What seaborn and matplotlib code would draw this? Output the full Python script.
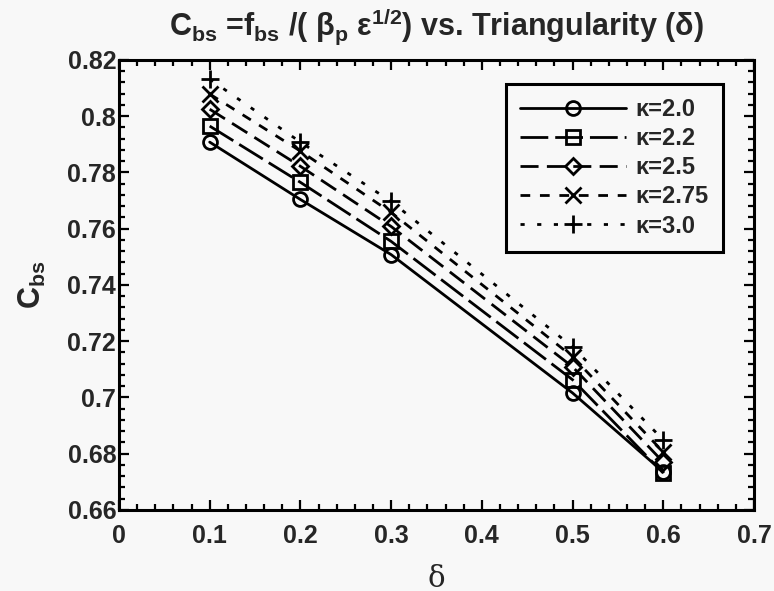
import matplotlib
matplotlib.use("Agg")
import matplotlib.pyplot as plt
import matplotlib.ticker as mticker
import seaborn as sns
import pandas as pd

# ---- data ----
delta = [0.1, 0.2, 0.3, 0.5, 0.6]
kappa_labels = ["κ=2.0", "κ=2.2", "κ=2.5", "κ=2.75", "κ=3.0"]
cbs_k20 = [0.7908, 0.7704, 0.7508, 0.7016, 0.6735]
cbs_k22 = [0.7965, 0.7765, 0.7555, 0.7063, 0.6731]
cbs_k25 = [0.8025, 0.7822, 0.7608, 0.7109, 0.6770]
cbs_k275 = [0.8079, 0.7876, 0.7658, 0.7145, 0.6806]
cbs_k30 = [0.8132, 0.7908, 0.7697, 0.7180, 0.6849]
xticks = [0, 0.1, 0.2, 0.3, 0.4, 0.5, 0.6, 0.7]
yticks = [0.66, 0.68, 0.70, 0.72, 0.74, 0.76, 0.78, 0.80, 0.82]

series = [cbs_k20, cbs_k22, cbs_k25, cbs_k275, cbs_k30]
rows = []
for lab, vals in zip(kappa_labels, series):
    for d, v in zip(delta, vals):
        rows.append({"delta": d, "cbs": v, "kappa": lab})
df = pd.DataFrame(rows)

sns.set_style("ticks")
plt.rcParams["font.family"] = ["Liberation Sans", "DejaVu Sans"]
plt.rcParams["font.weight"] = "bold"
plt.rcParams["mathtext.fontset"] = "custom"
plt.rcParams["mathtext.rm"] = "Liberation Sans:bold"
plt.rcParams["mathtext.bf"] = "Liberation Sans:bold"
plt.rcParams["mathtext.it"] = "Liberation Sans:bold"

bg = "#f8f8f8"
fig = plt.figure(figsize=(7.74, 5.91), dpi=100, facecolor=bg)
ax = fig.add_axes([0.1537, 0.1371, 0.8205, 0.7614])
ax.set_facecolor(bg)

markers = {"κ=2.0": "o", "κ=2.2": "s", "κ=2.5": "D", "κ=2.75": "x", "κ=3.0": "+"}
msizes = {"κ=2.0": 10, "κ=2.2": 10, "κ=2.5": 8, "κ=2.75": 12, "κ=3.0": 13}
dashes = {"κ=2.0": None,
          "κ=2.2": (10, 2.5),
          "κ=2.5": (6.5, 3),
          "κ=2.75": (3.5, 3.5),
          "κ=3.0": (1.5, 4.5)}

handles = []
for lab in kappa_labels:
    sub = df[df["kappa"] == lab]
    n0 = len(ax.get_lines())
    sns.lineplot(data=sub, x="delta", y="cbs", color="black", linewidth=2.0,
                 marker=markers[lab], markersize=msizes[lab], mec="black",
                 mfc="none", mew=2.0, legend=False, ax=ax, errorbar=None)
    ln = ax.get_lines()[n0]
    if dashes[lab] is not None:
        ln.set_dashes(dashes[lab])
    handles.append(ln)

ax.set_xlim(0, 0.7)
ax.set_ylim(0.66, 0.82)
ax.set_xticks(xticks)
ax.set_yticks(yticks)
fmt = mticker.FuncFormatter(lambda v, p: "%g" % round(v, 3))
ax.xaxis.set_major_formatter(fmt)
ax.yaxis.set_major_formatter(fmt)
ax.xaxis.set_minor_locator(mticker.MultipleLocator(0.02))
ax.yaxis.set_minor_locator(mticker.MultipleLocator(0.004))
ax.tick_params(which="both", direction="in", top=True, right=True, width=1.6,
               color="black")
ax.tick_params(which="major", length=7, labelsize=18)
ax.tick_params(which="minor", length=4)
ax.tick_params(axis="x", which="major", pad=10)
ax.tick_params(axis="y", which="major", pad=2)
for lab in ax.get_xticklabels() + ax.get_yticklabels():
    lab.set_fontweight("bold")
for sp in ax.spines.values():
    sp.set_linewidth(2.2)
    sp.set_color("black")

ax.set_xlabel("δ", family="DejaVu Serif", fontweight="normal", fontsize=21,
              labelpad=12)
ax.set_ylabel(r"C$_{\mathregular{bs}}$", fontsize=22, fontweight="bold", labelpad=14)
ax.set_title(r"C$_{\mathregular{bs}}$ =f$_{\mathregular{bs}}$ /( β$_{\mathregular{p}}$ ε$^{\mathregular{1/2}}$) vs. Triangularity (δ)",
             fontsize=22, fontweight="bold", pad=17)

leg = ax.legend(handles, kappa_labels, loc="upper right",
                bbox_to_anchor=(0.951, 0.947), borderaxespad=0, fontsize=17,
                handlelength=4.5, handletextpad=0.4, labelspacing=0.26,
                borderpad=0.6, frameon=True, fancybox=False, framealpha=1,
                facecolor=bg, edgecolor="black")
leg.get_frame().set_linewidth(2.2)
for t in leg.get_texts():
    t.set_fontweight("bold")

fig.savefig("out.png", dpi=100, facecolor=bg)
